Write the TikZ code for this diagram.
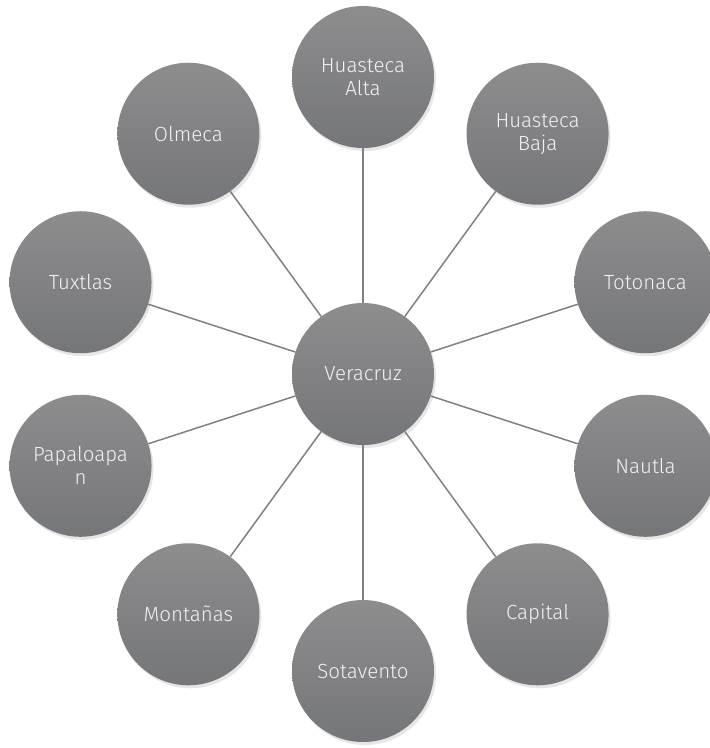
\documentclass[tikz,border=0pt]{standalone}
\usepackage{fontspec}
\setmainfont{Fira Sans Light}
\usetikzlibrary{calc,shadows}
\definecolor{discotop}{HTML}{8D8D8E}
\definecolor{discobot}{HTML}{75767A}
\definecolor{lineagris}{HTML}{808082}

\begin{document}
\begin{tikzpicture}[x=1pt,y=1pt,
  region/.style={circle,minimum size=142pt,inner sep=0pt,
    top color=discotop,bottom color=discobot,text=white!95!black,
    font=\fontsize{20.5}{23}\selectfont,align=center,
    drop shadow={opacity=0.2,shadow xshift=2pt,shadow yshift=-3pt}},
  enlace/.style={draw=lineagris,line width=1.5pt}]
  \useasboundingbox (0,0) rectangle (710,-748);
  % centro
  \node[region] (veracruz) at (363,-374) {Veracruz};
  % regiones alrededor
  \foreach \ang/\nombre/\texto in {90/alta/{Huasteca\\Alta},
      54/baja/{Huasteca\\Baja}, 18/totonaca/Totonaca, -18/nautla/Nautla,
      -54/capital/Capital, -90/sotavento/Sotavento, 234/montanas/Montañas,
      198/papaloapan/{Papaloapa\\n}, 162/tuxtlas/Tuxtlas, 126/olmeca/Olmeca}{
    \node[region] (\nombre) at ($(veracruz)+(\ang:297)$) {\texto};
    \draw[enlace] (veracruz) -- (\nombre);
  }
\end{tikzpicture}
\end{document}
